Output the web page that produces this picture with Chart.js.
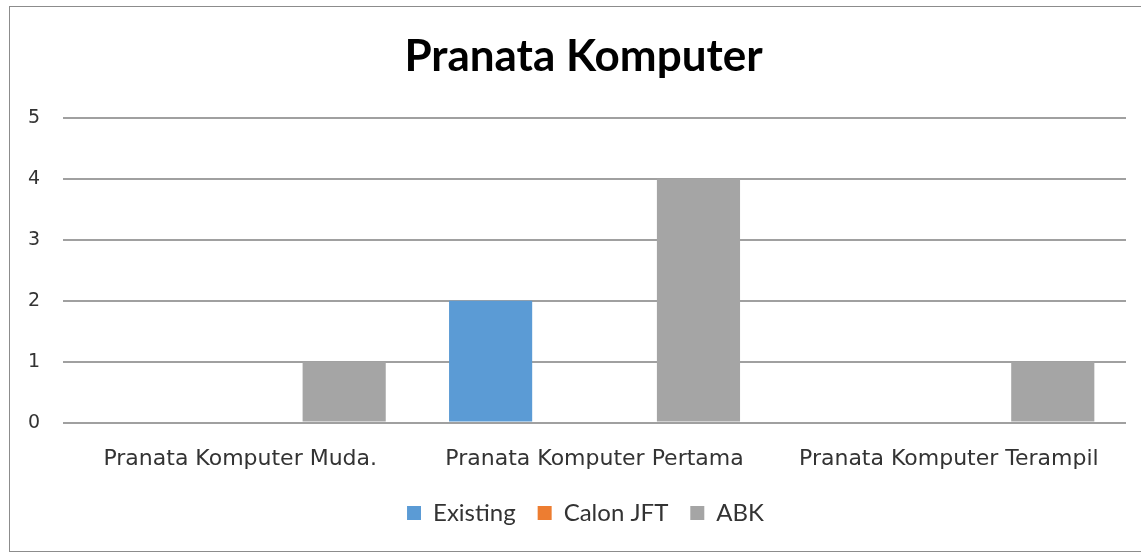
<!DOCTYPE html>
<html>
<head>
<meta charset="utf-8">
<script src="https://cdn.jsdelivr.net/npm/chart.js@4"></script>
<style>
  html, body { margin: 0; padding: 0; background: #fff; overflow: hidden; }
  #wrap { position: relative; width: 1141px; height: 555px; }
  #frame { position: absolute; left: 9px; top: 6px; width: 1140px; height: 546px; border: 1px solid #8c8c8c; box-sizing: border-box; pointer-events: none; }
  canvas { position: absolute; left: 0; top: 0; }
</style>
</head>
<body>
<div id="wrap">
  <canvas id="chart" width="1141" height="555"></canvas>
  <div id="frame"></div>
</div>
<script>
const categories = ['Pranata Komputer Muda.', 'Pranata Komputer Pertama', 'Pranata Komputer Terampil'];
const existing = [0, 2, 0];
const calonJft = [0, 0, 0];
const abk = [1, 4, 1];

// nudge title and legend a little right, like the original sits
const blockShift = {
  id: 'blockShift',
  afterLayout(chart) {
    if (chart.titleBlock) {
      chart.titleBlock.left += 18;
      chart.titleBlock.right += 18;
    }
    if (chart.legend) {
      chart.legend.left += 20;
      chart.legend.right += 20;
    }
  }
};

const chart = new Chart(document.getElementById('chart'), {
  type: 'bar',
  data: {
    labels: categories,
    datasets: [
      { label: 'Existing', data: existing, backgroundColor: '#5b9bd5' },
      { label: 'Calon JFT', data: calonJft, backgroundColor: '#ed7d31' },
      { label: 'ABK', data: abk, backgroundColor: '#a5a5a5' }
    ]
  },
  plugins: [blockShift],
  options: {
    responsive: false,
    animation: false,
    datasets: { bar: { categoryPercentage: 0.88, barPercentage: 0.8 } },
    layout: { padding: { left: 5, right: 15, top: 30, bottom: 20 } },
    plugins: {
      title: {
        display: true,
        text: 'Pranata Komputer',
        color: '#000',
        font: { family: 'Lato', size: 44, weight: 'bold' },
        padding: { top: 0, bottom: 35 }
      },
      legend: {
        position: 'bottom',
        labels: {
          color: '#333',
          font: { family: 'Lato', size: 24 },
          boxWidth: 14,
          boxHeight: 14,
          padding: 22
        }
      },
      tooltip: { enabled: false }
    },
    scales: {
      x: {
        grid: { display: false, drawTicks: false },
        border: { display: false },
        ticks: { color: '#333', font: { family: 'DejaVu Sans', size: 22 }, padding: 23 },
        afterFit: scale => { scale.height -= 16; }
      },
      y: {
        min: 0,
        max: 5,
        ticks: { stepSize: 1, color: '#333', font: { family: 'DejaVu Sans', size: 19 }, padding: 23 },
        grid: { color: '#a0a0a0', lineWidth: 2, drawTicks: false },
        border: { display: false }
      }
    }
  }
});
</script>
</body>
</html>
